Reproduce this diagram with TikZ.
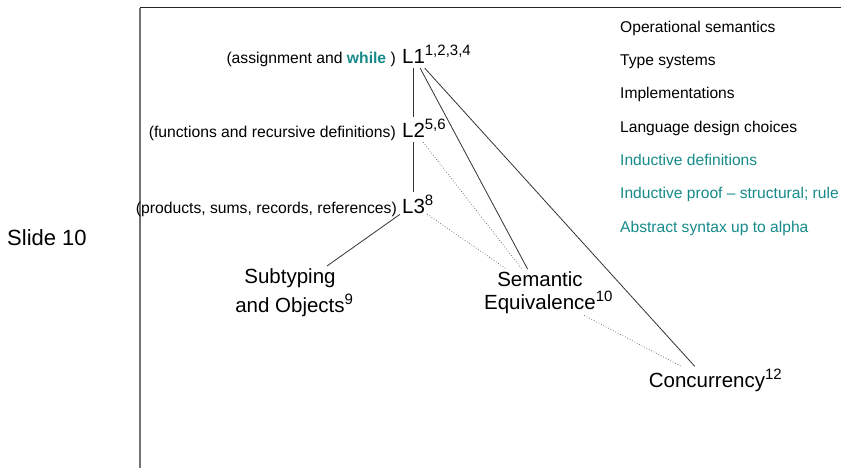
\documentclass[tikz,border=0pt]{standalone}
\usepackage{fontspec}
\setmainfont{Liberation Sans}
\definecolor{slideteal}{RGB}{22,138,138}
\newcommand{\supnum}[1]{\raisebox{8pt}{\fontsize{15}{15}\selectfont #1}}
\tikzset{%
  lang/.style      = {font=\fontsize{20.5}{23}\selectfont, inner sep=2pt,%
                      text height=18.5pt, text depth=2pt, anchor=base},%
  topic/.style     = {font=\fontsize{20.5}{23}\selectfont, inner sep=2pt,%
                      align=center, anchor=north},%
  remark/.style    = {font=\fontsize{15.7}{18}\selectfont, inner sep=0pt, anchor=base east},%
  listitem/.style  = {font=\fontsize{15.6}{18}\selectfont, inner sep=0pt, anchor=base west},%
  solidlink/.style = {draw=black!80, line width=0.8pt},%
  dottedlink/.style= {draw=black!65, dotted, line width=0.7pt}%
}

\begin{document}
\begin{tikzpicture}[x=1pt,y=-1pt]
	\useasboundingbox (0,0) rectangle (841,468);
	% slide frame
	\draw [black!85, line width=1pt] (140,8) -- (841,8);
	\draw [black!55, line width=1.3pt] (140,8) -- (140,468);
	\node [font=\fontsize{22}{24}\selectfont, inner sep=0pt, anchor=base west] (slide) at (7,245) {Slide 10};
	% languages
	\node [lang] (L1) at (413.5,64) {L1\rlap{\supnum{1,2,3,4}}};
	\node [lang] (L2) at (413.5,138) {L2\rlap{\supnum{5,6}}};
	\node [lang] (L3) at (413.5,213) {L3\rlap{\supnum{8}}};
	\node [remark] (r1) at (396,64) {(assignment and \textcolor{slideteal}{\bfseries while} )};
	\node [remark] (r2) at (396,138) {(functions and recursive definitions)};
	\node [remark] (r3) at (397,213) {(products, sums, records, references)};
	% topics
	\node [topic] (sub) at (290,266) {Subtyping\\[6pt] and Objects\rlap{\supnum{9}}};
	\node [topic] (sem) at (540,269) {Semantic\\ Equivalence\rlap{\supnum{10}}};
	\node [topic, anchor=base] (conc) at (707,387) {Concurrency\rlap{\supnum{12}}};
	% list on the right
	\node [listitem] (i1) at (620,32.5) {Operational semantics};
	\node [listitem] (i2) at (620,65.8) {Type systems};
	\node [listitem] (i3) at (620,99) {Implementations};
	\node [listitem] (i4) at (620,132.3) {Language design choices};
	\node [listitem, slideteal] (i5) at (620,165.6) {Inductive definitions};
	\node [listitem, slideteal] (i6) at (620,198.9) {Inductive proof – structural; rule};
	\node [listitem, slideteal] (i7) at (620,232.2) {Abstract syntax up to alpha};
	% connections
	\draw [solidlink] (L1) -- (L2);
	\draw [solidlink] (L2) -- (L3);
	\draw [solidlink] (L1) -- (sem);
	\draw [solidlink] (L1) -- (conc);
	\draw [solidlink] (L3) -- (sub);
	\draw [dottedlink] (L2) -- (sem);
	\draw [dottedlink] (L3) -- (sem);
	\draw [dottedlink] (sem) -- (conc);
\end{tikzpicture}
\end{document}
